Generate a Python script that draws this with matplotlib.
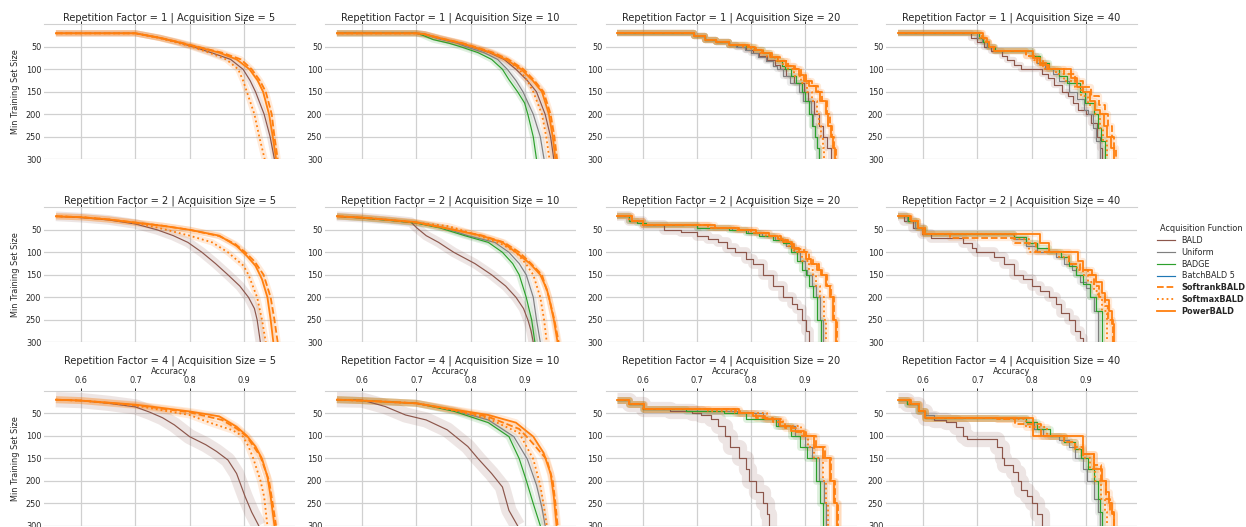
import matplotlib
matplotlib.use("Agg")
import matplotlib.pyplot as plt
from matplotlib.lines import Line2D

plt.rcParams["font.family"] = ["DejaVu Sans"]
plt.rcParams["font.size"] = 5.9
plt.rcParams["text.color"] = "#262626"
plt.rcParams["axes.labelcolor"] = "#262626"
plt.rcParams["xtick.color"] = "#262626"
plt.rcParams["ytick.color"] = "#262626"

reps = [1, 2, 4]
acq_sizes = [5, 10, 20, 40]
methods = ["BALD", "Uniform", "BADGE", "BatchBALD 5", "SoftrankBALD", "SoftmaxBALD", "PowerBALD"]
bold_methods = ["SoftrankBALD", "SoftmaxBALD", "PowerBALD"]
colors = {"BALD": "#8c564b", "Uniform": "#7f7f7f", "BADGE": "#2ca02c", "BatchBALD 5": "#1f77b4",
          "SoftrankBALD": "#ff7f0e", "SoftmaxBALD": "#ff7f0e", "PowerBALD": "#ff7f0e"}
styles = {"BALD": "-", "Uniform": "-", "BADGE": "-", "BatchBALD 5": "-",
          "SoftrankBALD": "--", "SoftmaxBALD": ":", "PowerBALD": "-"}
x_ticks = [0.6, 0.7, 0.8, 0.9]
y_ticks = [50, 100, 150, 200, 250, 300]

# (accuracy, min training set size) points, keyed by (repetition, acquisition size)
bald = {
    (1, 5): [(0.553, 20), (0.700, 20), (0.745, 30), (0.778, 40), (0.807, 50), (0.840, 63), (0.876, 78), (0.899, 100),
             (0.912, 125), (0.922, 150), (0.938, 200), (0.949, 250), (0.957, 300)],
    (1, 10): [(0.553, 20), (0.700, 20), (0.715, 22), (0.745, 32), (0.780, 42), (0.802, 50), (0.835, 63), (0.862, 78),
              (0.884, 100), (0.905, 125), (0.922, 150), (0.938, 200), (0.948, 250), (0.954, 300)],
    (1, 20): [(0.553, 20), (0.695, 27), (0.715, 35), (0.735, 40), (0.760, 45), (0.775, 50), (0.790, 57), (0.803, 63),
              (0.815, 70), (0.830, 80), (0.845, 90), (0.853, 100), (0.865, 115), (0.880, 130), (0.898, 150),
              (0.905, 170), (0.917, 200), (0.925, 225), (0.933, 250), (0.940, 275), (0.948, 300)],
    (1, 40): [(0.553, 20), (0.688, 30), (0.700, 40), (0.712, 50), (0.725, 60), (0.746, 70), (0.755, 80), (0.768, 90),
              (0.781, 100), (0.819, 110), (0.830, 120), (0.842, 135), (0.857, 150), (0.868, 160), (0.876, 175),
              (0.886, 190), (0.900, 200), (0.910, 220), (0.921, 250), (0.927, 275), (0.931, 300)],
    (2, 5): [(0.553, 20), (0.600, 23), (0.650, 28), (0.700, 37), (0.740, 50), (0.770, 63), (0.797, 78), (0.823, 100),
             (0.848, 125), (0.871, 150), (0.893, 175), (0.909, 200), (0.920, 225), (0.925, 250), (0.928, 275),
             (0.931, 300)],
    (2, 10): [(0.553, 20), (0.600, 23), (0.650, 28), (0.690, 33), (0.700, 45), (0.718, 63), (0.741, 78), (0.769, 100),
              (0.808, 125), (0.839, 150), (0.865, 175), (0.884, 200), (0.898, 225), (0.906, 250), (0.912, 275),
              (0.916, 300)],
    (2, 20): [(0.553, 20), (0.575, 30), (0.600, 40), (0.640, 50), (0.670, 55), (0.700, 63), (0.720, 70), (0.739, 78),
              (0.755, 90), (0.771, 100), (0.790, 115), (0.803, 125), (0.822, 150), (0.841, 175), (0.860, 200),
              (0.875, 215), (0.885, 227), (0.895, 250), (0.902, 275), (0.908, 300)],
    (2, 40): [(0.553, 20), (0.565, 30), (0.580, 45), (0.598, 60), (0.615, 68), (0.673, 80), (0.690, 90), (0.698, 100),
              (0.730, 110), (0.750, 125), (0.768, 150), (0.785, 160), (0.800, 175), (0.815, 185), (0.832, 200),
              (0.845, 215), (0.855, 235), (0.870, 250), (0.880, 275), (0.890, 290), (0.896, 300)],
    (4, 5): [(0.553, 20), (0.600, 22), (0.650, 28), (0.700, 36), (0.727, 48), (0.750, 60), (0.772, 76), (0.800, 102),
             (0.830, 120), (0.850, 135), (0.871, 154), (0.887, 184), (0.903, 236), (0.915, 270), (0.928, 300)],
    (4, 10): [(0.553, 20), (0.600, 21), (0.642, 35), (0.680, 54), (0.718, 65), (0.757, 87), (0.795, 124), (0.814, 151),
              (0.839, 184), (0.859, 214), (0.871, 266), (0.887, 300)],
    (4, 20): [(0.553, 20), (0.575, 30), (0.600, 40), (0.650, 45), (0.690, 50), (0.707, 55), (0.726, 63), (0.739, 78),
              (0.752, 100), (0.761, 125), (0.777, 150), (0.790, 175), (0.796, 200), (0.809, 225), (0.822, 250),
              (0.830, 275), (0.834, 300)],
    (4, 40): [(0.553, 20), (0.570, 30), (0.590, 45), (0.603, 60), (0.620, 65), (0.641, 70), (0.660, 80), (0.673, 100),
              (0.680, 108), (0.736, 125), (0.745, 150), (0.749, 165), (0.765, 180), (0.775, 200), (0.781, 220),
              (0.792, 235), (0.800, 250), (0.810, 275), (0.819, 300)],
}

uniform = {
    (1, 10): [(0.553, 20), (0.700, 20), (0.713, 22), (0.740, 32), (0.775, 42), (0.792, 50), (0.825, 63), (0.850, 78),
              (0.868, 100), (0.884, 125), (0.897, 150), (0.916, 200), (0.929, 250), (0.936, 300)],
    (1, 20): [(0.553, 20), (0.695, 27), (0.715, 35), (0.735, 40), (0.760, 45), (0.772, 50), (0.788, 57), (0.800, 63),
              (0.812, 72), (0.828, 82), (0.840, 92), (0.848, 100), (0.860, 115), (0.872, 130), (0.889, 150),
              (0.897, 170), (0.910, 200), (0.914, 225), (0.919, 250), (0.922, 275), (0.925, 300)],
    (1, 40): [(0.553, 20), (0.700, 30), (0.708, 40), (0.718, 50), (0.730, 60), (0.800, 70), (0.810, 85), (0.825, 100),
              (0.840, 110), (0.850, 125), (0.870, 150), (0.885, 165), (0.897, 190), (0.905, 200), (0.913, 230),
              (0.920, 260), (0.927, 300)],
    (2, 10): [(0.553, 20), (0.600, 24), (0.650, 29), (0.700, 35), (0.750, 45), (0.795, 63), (0.845, 78), (0.871, 100),
              (0.890, 125), (0.903, 150), (0.916, 200), (0.922, 250), (0.929, 300)],
    (2, 20): [(0.553, 20), (0.575, 30), (0.600, 40), (0.700, 45), (0.765, 50), (0.795, 57), (0.820, 63), (0.845, 72),
              (0.865, 85), (0.879, 100), (0.890, 120), (0.900, 140), (0.904, 150), (0.913, 175), (0.920, 200),
              (0.927, 250), (0.933, 300)],
    (2, 40): [(0.553, 20), (0.570, 30), (0.585, 45), (0.600, 60), (0.768, 70), (0.790, 85), (0.810, 100), (0.845, 110),
              (0.860, 125), (0.875, 140), (0.883, 150), (0.890, 165), (0.900, 180), (0.908, 200), (0.915, 230),
              (0.922, 300)],
    (4, 10): [(0.553, 20), (0.600, 22), (0.700, 28), (0.770, 44), (0.833, 65), (0.880, 102), (0.905, 152), (0.922, 210),
              (0.932, 260), (0.938, 300)],
    (4, 20): [(0.553, 20), (0.575, 30), (0.600, 40), (0.700, 45), (0.775, 50), (0.823, 63), (0.850, 78), (0.882, 100),
              (0.900, 125), (0.912, 150), (0.926, 200), (0.935, 250), (0.939, 300)],
    (4, 40): [(0.553, 20), (0.570, 30), (0.590, 45), (0.603, 55), (0.620, 60), (0.790, 70), (0.805, 85), (0.822, 100),
              (0.850, 110), (0.870, 125), (0.880, 150), (0.895, 175), (0.903, 200), (0.915, 240), (0.922, 270),
              (0.927, 300)],
}

badge = {
    (1, 10): [(0.553, 20), (0.700, 20), (0.713, 25), (0.731, 34), (0.760, 42), (0.782, 50), (0.814, 63), (0.839, 78),
              (0.859, 100), (0.871, 123), (0.887, 150), (0.900, 175), (0.906, 200), (0.916, 250), (0.922, 300)],
    (1, 20): [(0.553, 20), (0.695, 27), (0.715, 35), (0.735, 40), (0.760, 45), (0.790, 50), (0.805, 57), (0.822, 63),
              (0.835, 72), (0.848, 82), (0.858, 92), (0.863, 100), (0.874, 115), (0.884, 130), (0.895, 150),
              (0.900, 170), (0.908, 200), (0.913, 225), (0.918, 250), (0.922, 275), (0.925, 300)],
    (1, 40): [(0.553, 20), (0.702, 30), (0.710, 40), (0.720, 50), (0.732, 60), (0.800, 70), (0.815, 85), (0.832, 100),
              (0.850, 115), (0.865, 130), (0.889, 150), (0.898, 175), (0.915, 200), (0.923, 230), (0.928, 260),
              (0.935, 300)],
    (2, 10): [(0.553, 20), (0.600, 24), (0.650, 29), (0.700, 35), (0.744, 46), (0.789, 63), (0.833, 78), (0.859, 100),
              (0.878, 125), (0.890, 150), (0.903, 200), (0.913, 250), (0.919, 300)],
    (2, 20): [(0.553, 20), (0.575, 30), (0.590, 35), (0.605, 40), (0.700, 45), (0.760, 50), (0.790, 57), (0.815, 63),
              (0.840, 72), (0.860, 80), (0.873, 100), (0.885, 120), (0.895, 140), (0.901, 150), (0.908, 175),
              (0.914, 200), (0.922, 250), (0.930, 300)],
    (2, 40): [(0.553, 20), (0.572, 30), (0.588, 45), (0.603, 60), (0.768, 65), (0.790, 80), (0.810, 90), (0.832, 100),
              (0.855, 110), (0.870, 130), (0.883, 150), (0.895, 170), (0.908, 200), (0.920, 230), (0.931, 300)],
    (4, 10): [(0.553, 20), (0.600, 22), (0.700, 28), (0.770, 46), (0.833, 71), (0.871, 102), (0.890, 151), (0.903, 199),
              (0.916, 251), (0.929, 300)],
    (4, 20): [(0.553, 20), (0.575, 30), (0.600, 40), (0.680, 45), (0.750, 50), (0.790, 63), (0.847, 78), (0.873, 100),
              (0.890, 125), (0.904, 150), (0.920, 200), (0.928, 250), (0.933, 300)],
    (4, 40): [(0.553, 20), (0.570, 30), (0.590, 45), (0.603, 60), (0.790, 70), (0.810, 85), (0.835, 100), (0.860, 115),
              (0.880, 130), (0.892, 150), (0.905, 175), (0.915, 200), (0.922, 240), (0.927, 270), (0.931, 300)],
}

softrank = {
    (1, 5): [(0.553, 20), (0.700, 20), (0.745, 30), (0.782, 40), (0.815, 50), (0.860, 63), (0.895, 78), (0.915, 100),
             (0.930, 125), (0.941, 150), (0.952, 200), (0.957, 250), (0.963, 300)],
    (1, 10): [(0.553, 20), (0.700, 20), (0.715, 22), (0.748, 32), (0.785, 42), (0.808, 50), (0.842, 63), (0.870, 78),
              (0.898, 100), (0.918, 125), (0.935, 150), (0.948, 200), (0.955, 250), (0.960, 300)],
    (1, 20): [(0.553, 20), (0.695, 27), (0.715, 35), (0.735, 40), (0.760, 45), (0.797, 50), (0.810, 57), (0.823, 63),
              (0.838, 72), (0.853, 82), (0.868, 92), (0.882, 100), (0.892, 112), (0.902, 125), (0.912, 137),
              (0.923, 150), (0.931, 170), (0.940, 200), (0.946, 225), (0.950, 250), (0.954, 275), (0.958, 300)],
    (1, 40): [(0.553, 20), (0.708, 30), (0.715, 40), (0.722, 50), (0.730, 60), (0.790, 70), (0.810, 85), (0.828, 100),
              (0.860, 110), (0.880, 125), (0.895, 140), (0.910, 160), (0.925, 180), (0.935, 200), (0.942, 225),
              (0.948, 250), (0.952, 275), (0.956, 300)],
    (2, 5): [(0.553, 20), (0.600, 22), (0.650, 27), (0.700, 34), (0.750, 41), (0.800, 50), (0.855, 64), (0.885, 82),
             (0.903, 100), (0.920, 120), (0.937, 150), (0.950, 200), (0.957, 250), (0.963, 300)],
    (2, 10): [(0.553, 20), (0.600, 23), (0.650, 28), (0.700, 34), (0.770, 50), (0.822, 63), (0.862, 78), (0.890, 100),
              (0.912, 125), (0.932, 150), (0.945, 200), (0.955, 250), (0.963, 300)],
    (2, 20): [(0.553, 20), (0.580, 30), (0.600, 40), (0.725, 45), (0.775, 50), (0.810, 57), (0.835, 63), (0.855, 72),
              (0.868, 82), (0.880, 92), (0.898, 100), (0.908, 115), (0.915, 125), (0.925, 140), (0.932, 150),
              (0.941, 175), (0.948, 200), (0.954, 250), (0.959, 300)],
    (2, 40): [(0.553, 20), (0.575, 30), (0.590, 45), (0.603, 60), (0.650, 68), (0.770, 80), (0.808, 100), (0.870, 125),
              (0.890, 140), (0.905, 150), (0.915, 175), (0.924, 200), (0.935, 220), (0.942, 250), (0.950, 300)],
    (4, 5): [(0.553, 20), (0.600, 22), (0.700, 32), (0.800, 48), (0.860, 65), (0.887, 84), (0.906, 102), (0.931, 146),
             (0.947, 200), (0.953, 245), (0.960, 300)],
    (4, 10): [(0.553, 20), (0.600, 22), (0.700, 28), (0.770, 43), (0.833, 58), (0.890, 85), (0.910, 110), (0.941, 153),
              (0.952, 200), (0.957, 250), (0.961, 300)],
    (4, 20): [(0.553, 20), (0.575, 30), (0.602, 40), (0.770, 50), (0.810, 60), (0.840, 70), (0.862, 82), (0.883, 92),
              (0.901, 100), (0.920, 125), (0.936, 150), (0.948, 200), (0.956, 250), (0.961, 300)],
    (4, 40): [(0.553, 20), (0.575, 30), (0.592, 45), (0.603, 60), (0.736, 63), (0.770, 75), (0.817, 100), (0.860, 115),
              (0.880, 125), (0.896, 140), (0.915, 165), (0.928, 200), (0.938, 240), (0.945, 270), (0.953, 300)],
}

softmax = {
    (1, 5): [(0.553, 20), (0.700, 20), (0.742, 30), (0.775, 40), (0.804, 50), (0.836, 63), (0.868, 78), (0.890, 100),
             (0.899, 125), (0.906, 150), (0.920, 200), (0.929, 250), (0.939, 300)],
    (1, 10): [(0.553, 20), (0.700, 20), (0.715, 22), (0.745, 32), (0.780, 42), (0.802, 50), (0.838, 63), (0.866, 78),
              (0.890, 100), (0.905, 125), (0.916, 150), (0.932, 200), (0.940, 250), (0.946, 300)],
    (1, 20): [(0.553, 20), (0.695, 27), (0.715, 35), (0.735, 40), (0.760, 45), (0.785, 50), (0.800, 57), (0.815, 63),
              (0.830, 72), (0.845, 82), (0.860, 92), (0.869, 100), (0.880, 115), (0.892, 130), (0.904, 150),
              (0.912, 170), (0.922, 200), (0.926, 225), (0.930, 250), (0.933, 275), (0.935, 300)],
    (1, 40): [(0.553, 20), (0.705, 30), (0.712, 40), (0.722, 50), (0.733, 60), (0.790, 70), (0.805, 80), (0.822, 100),
              (0.845, 110), (0.860, 125), (0.880, 140), (0.892, 160), (0.905, 180), (0.917, 200), (0.926, 230),
              (0.933, 260), (0.940, 300)],
    (2, 5): [(0.553, 20), (0.600, 22), (0.650, 27), (0.700, 35), (0.740, 45), (0.770, 54), (0.800, 63), (0.842, 78),
             (0.871, 100), (0.900, 130), (0.909, 150), (0.925, 200), (0.934, 250), (0.941, 300)],
    (2, 10): [(0.553, 20), (0.600, 23), (0.650, 28), (0.700, 34), (0.760, 42), (0.815, 63), (0.858, 82), (0.884, 100),
              (0.902, 125), (0.916, 150), (0.929, 200), (0.936, 250), (0.941, 300)],
    (2, 20): [(0.553, 20), (0.575, 30), (0.600, 40), (0.720, 45), (0.770, 50), (0.800, 57), (0.828, 63), (0.850, 72),
              (0.868, 85), (0.879, 100), (0.895, 120), (0.908, 140), (0.914, 150), (0.920, 175), (0.927, 200),
              (0.934, 250), (0.939, 300)],
    (2, 40): [(0.553, 20), (0.575, 30), (0.590, 45), (0.603, 60), (0.768, 70), (0.795, 100), (0.850, 110), (0.870, 125),
              (0.885, 140), (0.896, 150), (0.905, 165), (0.915, 185), (0.922, 200), (0.930, 230), (0.940, 300)],
    (4, 5): [(0.553, 20), (0.600, 22), (0.700, 33), (0.800, 54), (0.840, 72), (0.880, 88), (0.899, 102), (0.909, 124),
             (0.918, 151), (0.931, 199), (0.938, 236), (0.944, 300)],
    (4, 10): [(0.553, 20), (0.600, 22), (0.700, 28), (0.770, 44), (0.833, 62), (0.890, 94), (0.916, 152), (0.929, 210),
              (0.936, 260), (0.941, 300)],
    (4, 20): [(0.553, 20), (0.575, 30), (0.600, 40), (0.720, 45), (0.780, 50), (0.830, 63), (0.860, 78), (0.892, 100),
              (0.906, 125), (0.917, 150), (0.933, 200), (0.939, 250), (0.943, 300)],
    (4, 40): [(0.553, 20), (0.572, 30), (0.592, 45), (0.603, 60), (0.736, 63), (0.790, 80), (0.829, 100), (0.860, 115),
              (0.880, 130), (0.896, 150), (0.908, 175), (0.918, 200), (0.928, 240), (0.935, 270), (0.940, 300)],
}

power = {
    (1, 5): [(0.553, 20), (0.700, 20), (0.745, 30), (0.780, 40), (0.813, 50), (0.855, 63), (0.887, 78), (0.911, 100),
             (0.926, 125), (0.936, 150), (0.947, 200), (0.954, 250), (0.960, 300)],
    (1, 10): [(0.553, 20), (0.700, 20), (0.715, 22), (0.748, 32), (0.783, 42), (0.805, 50), (0.838, 63), (0.865, 78),
              (0.894, 100), (0.915, 125), (0.932, 150), (0.945, 200), (0.952, 250), (0.957, 300)],
    (1, 20): [(0.553, 20), (0.695, 27), (0.715, 35), (0.735, 40), (0.760, 45), (0.795, 50), (0.808, 57), (0.820, 63),
              (0.835, 72), (0.850, 82), (0.865, 92), (0.879, 100), (0.888, 112), (0.898, 125), (0.908, 137),
              (0.920, 150), (0.928, 170), (0.938, 200), (0.943, 225), (0.948, 250), (0.952, 275), (0.955, 300)],
    (1, 40): [(0.553, 20), (0.710, 30), (0.717, 40), (0.722, 50), (0.730, 60), (0.803, 75), (0.815, 90), (0.832, 100),
              (0.873, 120), (0.885, 140), (0.896, 150), (0.908, 170), (0.918, 190), (0.927, 200), (0.934, 225),
              (0.940, 250), (0.947, 275), (0.953, 300)],
    (2, 5): [(0.553, 20), (0.600, 22), (0.650, 27), (0.700, 34), (0.750, 41), (0.800, 50), (0.855, 63), (0.887, 86),
             (0.906, 108), (0.922, 130), (0.934, 160), (0.944, 200), (0.950, 250), (0.955, 300)],
    (2, 10): [(0.553, 20), (0.600, 23), (0.650, 28), (0.700, 33), (0.769, 50), (0.820, 63), (0.859, 78), (0.884, 100),
              (0.910, 125), (0.929, 150), (0.941, 182), (0.945, 200), (0.954, 250), (0.961, 300)],
    (2, 20): [(0.553, 20), (0.580, 30), (0.600, 40), (0.733, 45), (0.777, 50), (0.810, 57), (0.834, 63), (0.850, 70),
              (0.860, 78), (0.875, 90), (0.889, 100), (0.902, 115), (0.911, 125), (0.922, 140), (0.930, 150),
              (0.939, 175), (0.946, 200), (0.952, 250), (0.957, 300)],
    (2, 40): [(0.553, 20), (0.577, 30), (0.590, 45), (0.600, 60), (0.816, 80), (0.832, 100), (0.886, 120), (0.896, 140),
              (0.912, 150), (0.920, 165), (0.930, 190), (0.935, 205), (0.943, 230), (0.948, 260), (0.953, 300)],
    (4, 5): [(0.553, 20), (0.600, 22), (0.700, 31), (0.800, 46), (0.855, 57), (0.887, 80), (0.906, 100), (0.922, 124),
             (0.934, 151), (0.944, 191), (0.950, 236), (0.957, 300)],
    (4, 10): [(0.553, 20), (0.600, 22), (0.700, 28), (0.770, 42), (0.833, 54), (0.884, 71), (0.916, 102), (0.935, 138),
              (0.948, 184), (0.954, 236), (0.959, 300)],
    (4, 20): [(0.553, 20), (0.575, 30), (0.602, 40), (0.777, 50), (0.803, 57), (0.826, 63), (0.853, 78), (0.873, 90),
              (0.898, 100), (0.917, 125), (0.933, 150), (0.946, 200), (0.954, 250), (0.959, 300)],
    (4, 40): [(0.553, 20), (0.577, 30), (0.592, 45), (0.603, 60), (0.803, 100), (0.896, 140), (0.915, 175), (0.931, 200),
              (0.938, 225), (0.943, 250), (0.948, 275), (0.953, 300)],
}

curves = {"BALD": bald, "Uniform": uniform, "BADGE": badge, "SoftrankBALD": softrank,
          "SoftmaxBALD": softmax, "PowerBALD": power}

# band thickness in points, per repetition factor
band_pts = {1: 4.5, 2: 4.5, 4: 5}
bald_band_pts = {1: 4.5, 2: 7, 4: 11}

W, H = 1246, 527
col_left = [44, 325, 605.5, 886]
row_top = [24.3, 207.3, 390.7]
ax_w, ax_h = 251, 135

fig = plt.figure(figsize=(W / 100, H / 100), dpi=100)

for i, r in enumerate(reps):
    for j, a in enumerate(acq_sizes):
        ax = fig.add_axes([col_left[j] / W, 1 - (row_top[i] + ax_h) / H, ax_w / W, ax_h / H])
        ds = "steps-post" if a >= 20 else "default"
        for name in methods:
            data = curves.get(name, {})
            if (r, a) not in data:
                continue
            x = [p[0] for p in data[(r, a)]]
            y = [p[1] for p in data[(r, a)]]
            c = colors[name]
            bw = bald_band_pts[r] if name == "BALD" else band_pts[r]
            is_ours = name in bold_methods
            ax.plot(x, y, color=c, lw=bw, alpha=0.15, drawstyle=ds, solid_joinstyle="round",
                    solid_capstyle="butt", zorder=2)
            ax.plot(x, y, color=c, lw=1.3 if is_ours else 0.85, ls=styles[name], drawstyle=ds,
                    zorder=4 if is_ours else 3)

        ax.set_xlim(0.531, 0.995)
        ax.set_ylim(300, 0)
        ax.set_xticks(x_ticks)
        ax.set_yticks(y_ticks)
        ax.grid(True, color="#d0d0d0", lw=0.9)
        ax.set_axisbelow(True)
        for s in ["left", "right", "bottom"]:
            ax.spines[s].set_visible(False)
        ax.spines["top"].set_color("#d0d0d0")
        ax.xaxis.tick_top()
        ax.tick_params(axis="x", length=2.5, width=0.7, pad=1.5, color="#262626")
        ax.tick_params(axis="y", length=0, pad=2)
        if i < 2:
            ax.tick_params(axis="x", labeltop=False)
        else:
            ax.xaxis.set_label_position("top")
            ax.set_xlabel("Accuracy", labelpad=1.5)
        if j == 0:
            ax.set_ylabel("Min Training Set Size", labelpad=4)
        ax.set_title("Repetition Factor = {} | Acquisition Size = {}".format(r, a), pad=2.5)

handles = [Line2D([], [], color=colors[m], ls=styles[m], lw=1.3 if m in bold_methods else 0.85) for m in methods]
leg = fig.legend(handles, methods, loc="upper left", bbox_to_anchor=(1157 / W, 1 - 224 / H), frameon=False,
                 title="Acquisition Function", fontsize=5.9, title_fontsize=5.9, handlelength=2.2,
                 handletextpad=0.8, labelspacing=0.35, borderaxespad=0, borderpad=0)
for t in leg.get_texts():
    if t.get_text() in bold_methods:
        t.set_fontweight("bold")

fig.savefig("out.png", dpi=100)
